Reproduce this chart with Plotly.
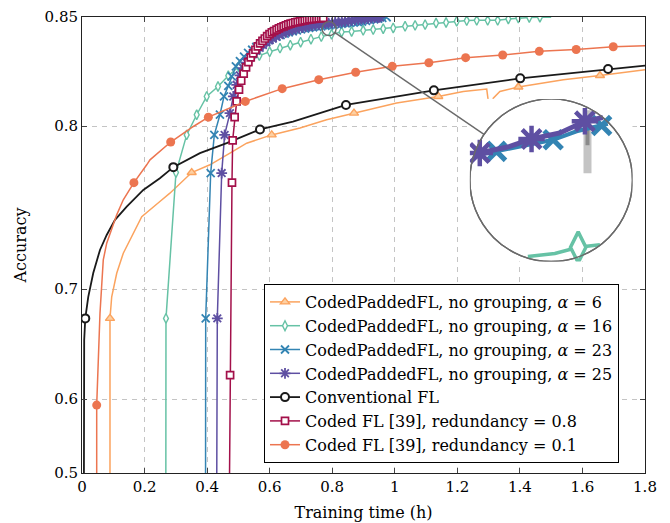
import numpy as np
import plotly.graph_objects as go

# ---------------- data ----------------
X_TICKS = [0, 0.2, 0.4, 0.6, 0.8, 1.0, 1.2, 1.4, 1.6, 1.8]
X_TICK_LABELS = ["0", "0.2", "0.4", "0.6", "0.8", "1", "1.2", "1.4", "1.6", "1.8"]
Y_TICKS = [0.5, 0.6, 0.7, 0.8, 0.85]
Y_TICK_LABELS = ["0.5", "0.6", "0.7", "0.8", "0.85"]

# CodedPaddedFL, alpha = 6
a6_x = [0.0895, 0.0895, 0.095, 0.111, 0.132, 0.153, 0.191, 0.249, 0.281, 0.3507, 0.409, 0.473,
        0.5265, 0.6065, 0.697, 0.782, 0.8696, 1.006, 1.139, 1.219, 1.294, 1.304, 1.315, 1.336,
        1.395, 1.539, 1.656, 1.752, 1.80]
a6_y = [0.45, 0.6770, 0.6942, 0.7117, 0.7257, 0.7346, 0.7494, 0.7586, 0.7635, 0.7753, 0.7796, 0.7859,
        0.7912, 0.7955, 0.7990, 0.8032, 0.8065, 0.8114, 0.8146, 0.8170, 0.8181, 0.8065, 0.8138, 0.8170,
        0.8191, 0.8225, 0.8244, 0.8264, 0.8271]
a6_mx = [0.0895, 0.3507, 0.6065, 0.8696, 1.139, 1.395, 1.656]
a6_my = [0.6770, 0.7753, 0.7955, 0.8065, 0.8146, 0.8191, 0.8244]

# CodedPaddedFL, alpha = 16
a16_x = [0.2680, 0.2685, 0.3005, 0.3347, 0.3667, 0.3987, 0.4348, 0.4677, 0.501, 0.534, 0.567, 0.600,
         0.633, 0.666, 0.699, 0.732, 0.765, 0.798, 0.830, 0.862, 0.899, 0.931, 0.963, 0.995, 1.033,
         1.065, 1.097, 1.132, 1.164, 1.198, 1.230, 1.262, 1.297, 1.329, 1.363, 1.395, 1.430, 1.464, 1.500]
a16_y = [0.45, 0.6770, 0.7753, 0.7955, 0.8057, 0.8146, 0.8193, 0.8243, 0.8284, 0.8311, 0.8334, 0.8351,
         0.8367, 0.8380, 0.8393, 0.8406, 0.8417, 0.8427, 0.8437, 0.8439, 0.8444, 0.8447, 0.8451, 0.8454, 0.8461,
         0.8465, 0.8468, 0.8475, 0.8477, 0.8482, 0.8485, 0.8486, 0.8486, 0.8486, 0.8492, 0.8496, 0.8498, 0.8499, 0.8499]

# CodedPaddedFL, alpha = 23
a23_x = [0.3950, 0.3955, 0.4114, 0.423, 0.441, 0.454, 0.4677, 0.4786, 0.492, 0.505, 0.518, 0.531, 0.544,
         0.557, 0.570, 0.583, 0.596, 0.609, 0.622, 0.635, 0.648, 0.661, 0.674, 0.687, 0.700, 0.713, 0.726,
         0.739, 0.752, 0.765, 0.778, 0.791, 0.804, 0.817, 0.830, 0.843, 0.856, 0.869, 0.882, 0.895, 0.908,
         0.921, 0.934, 0.947, 0.960, 0.974]
a23_y = [0.45, 0.6770, 0.7750, 0.7955, 0.8057, 0.8146, 0.8196, 0.8240, 0.8286, 0.8310, 0.8330, 0.8346, 0.8360,
         0.8372, 0.8383, 0.8393, 0.8402, 0.8410, 0.8417, 0.8424, 0.8430, 0.8435, 0.8440, 0.8444, 0.8448, 0.8451, 0.8454,
         0.8457, 0.8459, 0.8461, 0.8463, 0.8465, 0.8467, 0.8469, 0.8471, 0.8473, 0.8475, 0.8477, 0.8479, 0.8481, 0.8484,
         0.8487, 0.8490, 0.8493, 0.8496, 0.8499]

# CodedPaddedFL, alpha = 25
a25_x = [0.4306, 0.4326, 0.4466, 0.456, 0.473, 0.4837, 0.4945, 0.505, 0.5155, 0.526, 0.5365, 0.547, 0.5575,
         0.568, 0.5785, 0.589, 0.5995, 0.61, 0.6205, 0.631, 0.6415, 0.652, 0.6625, 0.673, 0.6835, 0.694, 0.7045,
         0.715, 0.7255, 0.736, 0.7465, 0.757, 0.7675, 0.778, 0.7885, 0.799, 0.8095, 0.82, 0.8305, 0.841, 0.8515,
         0.862, 0.8725, 0.883, 0.8935, 0.904, 0.9145, 0.925, 0.9355, 0.946, 0.952]
a25_y = [0.45, 0.6770, 0.7750, 0.7955, 0.8065, 0.8146, 0.8201, 0.8245, 0.8278, 0.8303, 0.8324, 0.8341, 0.8356,
         0.8369, 0.8381, 0.8392, 0.8401, 0.8409, 0.8417, 0.8424, 0.8430, 0.8436, 0.8441, 0.8445, 0.8449, 0.8453, 0.8456,
         0.8459, 0.8462, 0.8464, 0.8466, 0.8468, 0.8470, 0.8472, 0.8474, 0.8475, 0.8477, 0.8478, 0.8480, 0.8481, 0.8483,
         0.8486, 0.8488, 0.8489, 0.8491, 0.8492, 0.8494, 0.8495, 0.8497, 0.8498, 0.8499]

# Conventional FL
conv_x = [0.006, 0.007, 0.0105, 0.020, 0.036, 0.0575, 0.079, 0.1055, 0.143, 0.196, 0.249, 0.292, 0.377,
          0.4626, 0.569, 0.6745, 0.844, 1.125, 1.401, 1.682, 1.80]
conv_y = [0.45, 0.6585, 0.6770, 0.6942, 0.7119, 0.7279, 0.7378, 0.7474, 0.7555, 0.7654, 0.7721, 0.7783, 0.7859,
          0.7912, 0.7983, 0.8023, 0.8105, 0.8175, 0.8231, 0.8274, 0.8289]
conv_mx = [0.0105, 0.292, 0.569, 0.844, 1.125, 1.401, 1.682]
conv_my = [0.6770, 0.7783, 0.7983, 0.8105, 0.8175, 0.8231, 0.8274]

# Coded FL [39], redundancy 0.8
r08_x = [0.471, 0.4735, 0.4795, 0.4817, 0.488, 0.4945, 0.502, 0.509, 0.517, 0.5245, 0.532, 0.5395, 0.547,
         0.5545, 0.562, 0.5695, 0.577, 0.5845, 0.592, 0.5995, 0.607, 0.6145, 0.622, 0.6295, 0.637, 0.6445,
         0.652, 0.6595, 0.667, 0.6745, 0.682, 0.6895, 0.697, 0.7045, 0.712, 0.7195, 0.727, 0.7345, 0.742,
         0.7495, 0.757, 0.7645, 0.7714]
r08_y = [0.45, 0.6253, 0.7696, 0.7927, 0.8045, 0.8122, 0.8178, 0.8220, 0.8253, 0.8281, 0.8305, 0.8326, 0.8344,
         0.8360, 0.8375, 0.8388, 0.8399, 0.8409, 0.8419, 0.8428, 0.8435, 0.8441, 0.8447, 0.8452, 0.8457, 0.8461,
         0.8465, 0.8469, 0.8472, 0.8475, 0.8478, 0.8480, 0.8482, 0.8484, 0.8486, 0.8488, 0.8490, 0.8491, 0.8492,
         0.8493, 0.8494, 0.8495, 0.8496]

# Coded FL [39], redundancy 0.1
r01_x = [0.047, 0.047, 0.0575, 0.063, 0.068, 0.079, 0.095, 0.111, 0.132, 0.166, 0.207, 0.2174, 0.2836, 0.356,
         0.404, 0.522, 0.640, 0.757, 0.875, 0.992, 1.109, 1.2266, 1.345, 1.462, 1.580, 1.6985, 1.80]
r01_y = [0.45, 0.5931, 0.6811, 0.6994, 0.7211, 0.7324, 0.7410, 0.7505, 0.7596, 0.7696, 0.7796, 0.7823, 0.7918, 0.7998,
         0.8045, 0.8122, 0.8183, 0.8225, 0.8259, 0.8286, 0.8302, 0.8325, 0.8337, 0.8353, 0.8361, 0.8373, 0.8377]
r01_mx = [0.047, 0.166, 0.2836, 0.404, 0.522, 0.640, 0.757, 0.875, 0.992, 1.109, 1.2266, 1.345, 1.462, 1.580, 1.6985]
r01_my = [0.5931, 0.7696, 0.7918, 0.8045, 0.8122, 0.8183, 0.8225, 0.8259, 0.8286, 0.8302, 0.8325, 0.8337, 0.8353,
          0.8361, 0.8373]

# magnified inset (data near t = 0.79 h)
ins25_x = [0.7687, 0.77035, 0.77862, 0.7846, 0.7924, 0.79929, 0.80425]
ins25_y = [0.8460, 0.84609, 0.84633, 0.8466, 0.84682, 0.84724, 0.84738]
ins25_mark = [1, 3, 5]
ins23_x = [0.76883, 0.77495, 0.78322, 0.79055, 0.7970, 0.80389, 0.8056]
ins23_y = [0.84599, 0.84615, 0.84639, 0.84657, 0.84688, 0.84709, 0.84715]
ins23_mark = [1, 3, 5]
ins16_x = [0.78358, 0.79102, 0.79744, 0.80342]
ins16_y = [0.84230, 0.84241, 0.84264, 0.84273]
ins16_mark = [2]

# ---------------- geometry / scale ----------------
# the page body adds an 8 px offset; the figure is sized so that the plot area
# lands on x 82..645, y 17..473 of the 670x523 window
W, H = 662, 515
ML, MR, MT, MB = 74, 25, 9, 50
PW, PH = W - ML - MR, H - MT - MB
B = 3.95                      # exponential accuracy axis


def T(a):
    return np.exp(B * np.asarray(a, dtype=float))


X_RANGE = [0.0, 1.8]
Y_RANGE = [float(T(0.5)), float(T(0.85))]
PPH = PW / (X_RANGE[1] - X_RANGE[0])
PPU = PH / (Y_RANGE[1] - Y_RANGE[0])

ZOOM_X, ZOOM_Y, ZOOM_R = 0.790, 0.8451, 7.0    # spied region
BIG_X, BIG_Y, BIG_R = 1.5, 0.771, 81.3          # lens position
MAG = BIG_R / ZOOM_R


def to_px(x, acc):
    return ML + (x - X_RANGE[0]) * PPH, MT + (Y_RANGE[1] - float(T(acc))) * PPU


def to_paper(px, py):
    return (px - ML) / PW, (MT + PH - py) / PH


bcx, bcy = to_px(BIG_X, BIG_Y)
scx, scy = to_px(ZOOM_X, ZOOM_Y)
x2_dom = [(bcx - BIG_R - ML) / PW, (bcx + BIG_R - ML) / PW]
y2_dom = [(MT + PH - bcy - BIG_R) / PH, (MT + PH - bcy + BIG_R) / PH]
x2_rng = [ZOOM_X - BIG_R / (PPH * MAG), ZOOM_X + BIG_R / (PPH * MAG)]
uz = float(T(ZOOM_Y))
y2_rng = [uz - BIG_R / (PPU * MAG), uz + BIG_R / (PPU * MAG)]

# ---------------- styles ----------------
C6, C16, C23, C25 = "#FBA35E", "#66C2A5", "#3384B3", "#5E4FA2"
CCONV, C08, C01 = "#1a1a1a", "#A3104A", "#EC7550"
FONT = "DejaVu Serif"

series = [
    dict(name="CodedPaddedFL, no grouping, <i>α</i> = 6", color=C6, x=a6_x, y=a6_y, mx=a6_mx, my=a6_my,
         marker=dict(symbol="triangle-up", size=8, color="#FDD0A3", line=dict(color=C6, width=1.4))),
    dict(name="CodedPaddedFL, no grouping, <i>α</i> = 16", color=C16, x=a16_x, y=a16_y,
         mx=a16_x[1:-1], my=a16_y[1:-1],
         marker=dict(symbol="diamond-tall", size=7, color="white", line=dict(color=C16, width=1.4))),
    dict(name="CodedPaddedFL, no grouping, <i>α</i> = 23", color=C23, x=a23_x, y=a23_y,
         mx=a23_x[1:], my=a23_y[1:],
         marker=dict(symbol="x-thin", size=8, color=C23, line=dict(color=C23, width=1.8))),
    dict(name="CodedPaddedFL, no grouping, <i>α</i> = 25", color=C25, x=a25_x, y=a25_y,
         mx=a25_x[1:], my=a25_y[1:],
         marker=dict(symbol="asterisk", size=9, color=C25, line=dict(color=C25, width=1.8))),
    dict(name="Conventional FL", color=CCONV, x=conv_x, y=conv_y, mx=conv_mx, my=conv_my,
         marker=dict(symbol="circle", size=8, color="white", line=dict(color=CCONV, width=2))),
    dict(name="Coded FL [39], redundancy = 0.8", color=C08, x=r08_x, y=r08_y,
         mx=r08_x[1:], my=r08_y[1:],
         marker=dict(symbol="square", size=7, color="white", line=dict(color=C08, width=1.7))),
    dict(name="Coded FL [39], redundancy = 0.1", color=C01, x=r01_x, y=r01_y, mx=r01_mx, my=r01_my,
         marker=dict(symbol="circle", size=9, color=C01, line=dict(color=C01, width=0))),
]

fig = go.Figure()
for s in series:
    lw = 1.8 if s["color"] == CCONV else 1.5
    fig.add_trace(go.Scatter(x=s["x"], y=T(s["y"]), mode="lines", showlegend=False,
                             line=dict(color=s["color"], width=lw), hoverinfo="skip"))
    fig.add_trace(go.Scatter(x=s["mx"], y=T(s["my"]), mode="markers", showlegend=False,
                             marker=s["marker"], hoverinfo="skip"))
for s in series:
    lw = 1.8 if s["color"] == CCONV else 1.5
    fig.add_trace(go.Scatter(x=[None], y=[None], mode="lines+markers", name=s["name"],
                             line=dict(color=s["color"], width=lw), marker=s["marker"]))

# inset traces
inset = [
    (ins16_x, ins16_y, ins16_mark, C16, 3.5,
     dict(symbol="diamond-tall", size=22, color="white", line=dict(color=C16, width=3.5))),
    (ins23_x, ins23_y, ins23_mark, C23, 4.0,
     dict(symbol="x-thin", size=18, color=C23, line=dict(color=C23, width=5))),
    (ins25_x, ins25_y, ins25_mark, C25, 5.0,
     dict(symbol="asterisk", size=22, color=C25, line=dict(color=C25, width=4.5))),
]
for xs, ys, mk, col, lw, mkr in inset:
    fig.add_trace(go.Scatter(x=xs, y=T(ys), mode="lines", xaxis="x2", yaxis="y2", showlegend=False,
                             line=dict(color=col, width=lw), hoverinfo="skip"))
    fig.add_trace(go.Scatter(x=[xs[i] for i in mk], y=T([ys[i] for i in mk]), mode="markers",
                             xaxis="x2", yaxis="y2", showlegend=False, marker=mkr, hoverinfo="skip"))

# ---------------- shapes: lens ----------------
GRAY = "#6a6a6a"
shapes = []
shapes.append(dict(type="circle", xref="x2", yref="y2", x0=x2_rng[0], x1=x2_rng[1], y0=y2_rng[0], y1=y2_rng[1],
                   fillcolor="white", line=dict(color=GRAY, width=1.4), layer="below"))


def inset_u(dpy):
    return uz - dpy / (PPU * MAG)


shapes.append(dict(type="line", xref="x2", yref="y2", x0=0.8, x1=0.8, y0=inset_u(-7), y1=inset_u(-70),
                   line=dict(color="#c4c4c4", width=8), layer="below"))
shapes.append(dict(type="line", xref="x2", yref="y2", x0=0.8, x1=0.8, y0=inset_u(-35), y1=inset_u(-57),
                   line=dict(color="#8a8a8a", width=4), layer="below"))
shapes.append(dict(type="circle", xref="x2", yref="y2", x0=x2_rng[0], x1=x2_rng[1], y0=y2_rng[0], y1=y2_rng[1],
                   line=dict(color=GRAY, width=1.4), layer="above"))
shapes.append(dict(type="circle", xref="x", yref="y",
                   x0=ZOOM_X - ZOOM_R / PPH, x1=ZOOM_X + ZOOM_R / PPH,
                   y0=uz - ZOOM_R / PPU, y1=uz + ZOOM_R / PPU,
                   line=dict(color=GRAY, width=1.4), layer="above"))
dx, dy = bcx - scx, bcy - scy
dist = np.hypot(dx, dy)
p0 = to_paper(scx + dx / dist * ZOOM_R, scy + dy / dist * ZOOM_R)
p1 = to_paper(bcx - dx / dist * BIG_R, bcy - dy / dist * BIG_R)
shapes.append(dict(type="line", xref="paper", yref="paper", x0=p0[0], y0=p0[1], x1=p1[0], y1=p1[1],
                   line=dict(color=GRAY, width=1.4), layer="above"))

axis_common = dict(showline=True, linecolor="#222", linewidth=1, mirror="ticks", ticks="inside",
                   ticklen=5, tickwidth=0.8, tickcolor="#444", showgrid=True, gridcolor="#c4c4c4",
                   gridwidth=0.8, griddash="5px,5px", zeroline=False, automargin=False,
                   tickfont=dict(family=FONT, size=15, color="black"))

fig.update_layout(
    width=W, height=H, autosize=False,
    margin=dict(l=ML, r=MR, t=MT, b=MB, autoexpand=False),
    paper_bgcolor="white", plot_bgcolor="white",
    font=dict(family=FONT, size=16, color="black"),
    xaxis=dict(range=X_RANGE, tickvals=X_TICKS, ticktext=X_TICK_LABELS,
               title=dict(text="Training time (h)", font=dict(family=FONT, size=16), standoff=11),
               **axis_common),
    yaxis=dict(range=Y_RANGE, tickvals=list(T(Y_TICKS)), ticktext=Y_TICK_LABELS,
               title=dict(text="Accuracy", font=dict(family=FONT, size=16), standoff=13),
               **axis_common),
    xaxis2=dict(domain=x2_dom, range=x2_rng, anchor="y2", visible=False),
    yaxis2=dict(domain=y2_dom, range=y2_rng, anchor="x2", visible=False),
    legend=dict(x=(264 - 8 - ML) / PW, y=(MT + PH - (463 - 8)) / PH, xanchor="left", yanchor="bottom",
                bgcolor="white", bordercolor="black", borderwidth=1,
                font=dict(family=FONT, size=16, color="black"), tracegroupgap=0),
    shapes=shapes,
    showlegend=True,
)

fig.write_html("out.html")
